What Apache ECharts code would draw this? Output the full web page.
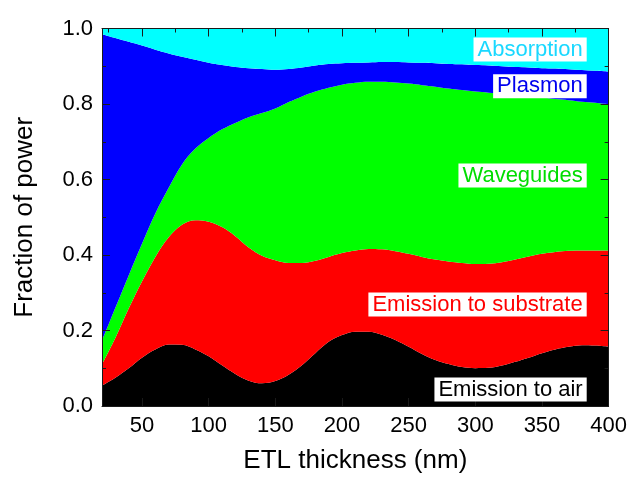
<!DOCTYPE html>
<html>
<head>
<meta charset="utf-8">
<script src="https://cdn.jsdelivr.net/npm/echarts@6/dist/echarts.min.js"></script>
<style>
html,body{margin:0;padding:0;background:#fff;}
#chart{width:630px;height:479px;}
</style>
</head>
<body>
<div id="chart"></div>
<script>
// ETL thickness (nm)
const thickness = [20,30,40,50,60,70,80,90,100,110,120,130,140,150,160,170,180,190,200,210,220,230,240,250,260,270,280,290,300,310,320,330,340,350,360,370,380,390,400];
// Fraction of power per channel
const emissionAir = [0.054,0.075,0.100,0.128,0.150,0.163,0.162,0.150,0.132,0.108,0.085,0.067,0.060,0.066,0.083,0.108,0.140,0.170,0.188,0.197,0.197,0.189,0.175,0.157,0.138,0.122,0.111,0.103,0.100,0.101,0.107,0.117,0.128,0.140,0.150,0.157,0.161,0.160,0.157];
const emissionSubstrate = [0.056,0.105,0.158,0.202,0.245,0.284,0.318,0.342,0.356,0.366,0.365,0.353,0.338,0.320,0.296,0.271,0.245,0.225,0.217,0.215,0.219,0.226,0.235,0.246,0.257,0.266,0.272,0.276,0.276,0.276,0.274,0.271,0.268,0.263,0.258,0.254,0.251,0.252,0.255];
const waveguides = [0.063,0.080,0.088,0.100,0.115,0.131,0.160,0.190,0.222,0.259,0.300,0.345,0.378,0.402,0.426,0.441,0.448,0.448,0.446,0.444,0.443,0.444,0.447,0.451,0.455,0.458,0.458,0.458,0.457,0.453,0.445,0.435,0.424,0.414,0.405,0.399,0.394,0.391,0.387];
const plasmon = [0.812,0.715,0.619,0.525,0.434,0.356,0.285,0.235,0.199,0.170,0.148,0.130,0.117,0.103,0.088,0.077,0.069,0.063,0.057,0.053,0.051,0.052,0.054,0.056,0.059,0.062,0.065,0.068,0.070,0.072,0.074,0.075,0.077,0.078,0.081,0.082,0.084,0.085,0.087];
const absorption = [0.015,0.025,0.035,0.045,0.056,0.066,0.075,0.083,0.091,0.097,0.102,0.105,0.107,0.109,0.107,0.103,0.098,0.094,0.092,0.091,0.090,0.089,0.089,0.090,0.091,0.092,0.094,0.095,0.097,0.098,0.100,0.102,0.103,0.105,0.106,0.108,0.110,0.112,0.114];

const seriesNames = ['Emission to air','Emission to substrate','Waveguides','Plasmon','Absorption'];
const xMajorTicks = [50,100,150,200,250,300,350,400];
const xMinorTicks = [25,75,125,175,225,275,325,375];

const fillColors = ['#000000','#ff0000','#00ff00','#0000ff','#00ffff'];
const textColors = ['#000000','#ff0000','#00dd00','#0000ee','#1ad8ff'];
const labelCenters = [389.5,304.5,175.5,86.3,49.5];

const FONT = 'Liberation Sans, Arial, Helvetica, sans-serif';
const seriesValues = [emissionAir, emissionSubstrate, waveguides, plasmon, absorption];

const chart = echarts.init(document.getElementById('chart'), null, {renderer:'canvas'});

const axisLineStyle = {color:'#1a1a1a', width:1};

const option = {
  animation:false,
  backgroundColor:'#ffffff',
  grid:{left:102, right:20.5, top:28.5, bottom:70, containLabel:false},
  xAxis:[
    {type:'value', position:'bottom', min:20, max:400, z:10,
     name:'ETL thickness (nm)', nameLocation:'middle', nameGap:42,
     nameTextStyle:{fontSize:26, color:'#000', fontFamily:FONT},
     axisLine:{show:true, onZero:false, lineStyle:axisLineStyle},
     axisTick:{show:true, inside:true, length:8, customValues:xMajorTicks, lineStyle:axisLineStyle},
     axisLabel:{customValues:xMajorTicks, fontSize:22, color:'#000', fontFamily:FONT, margin:9},
     splitLine:{show:false}},
    {type:'value', position:'top', min:20, max:400, z:10,
     axisLine:{show:true, onZero:false, lineStyle:axisLineStyle},
     axisTick:{show:true, inside:true, length:8, customValues:xMajorTicks, lineStyle:axisLineStyle},
     axisLabel:{show:false}, splitLine:{show:false}},
    {type:'value', position:'top', min:20, max:400, z:10,
     axisLine:{show:false, onZero:false},
     axisTick:{show:true, inside:true, length:4, customValues:xMinorTicks, lineStyle:axisLineStyle},
     axisLabel:{show:false}, splitLine:{show:false}}
  ],
  yAxis:[
    {type:'value', position:'left', min:0, max:1, interval:0.2, z:10,
     name:'Fraction of power', nameLocation:'middle', nameGap:64,
     nameTextStyle:{fontSize:26, color:'#000', fontFamily:FONT},
     axisLine:{show:true, onZero:false, lineStyle:axisLineStyle},
     axisTick:{show:true, inside:true, length:8, lineStyle:axisLineStyle},
     minorTick:{show:true, splitNumber:2, length:4, lineStyle:axisLineStyle},
     axisLabel:{fontSize:22, color:'#000', fontFamily:FONT, margin:9, formatter:v=>v.toFixed(1)},
     splitLine:{show:false}},
    {type:'value', position:'right', min:0, max:1, interval:0.2, z:10,
     axisLine:{show:true, onZero:false, lineStyle:axisLineStyle},
     axisTick:{show:true, inside:true, length:8, lineStyle:axisLineStyle},
     minorTick:{show:true, splitNumber:2, length:4, lineStyle:axisLineStyle},
     axisLabel:{show:false}, splitLine:{show:false}}
  ],
  series: seriesNames.map((name,k)=>({
    name:name, type:'line', stack:'total', smooth:0.35,
    xAxisIndex:0, yAxisIndex:0,
    showSymbol:false, symbol:'none',
    lineStyle:{width:0, color:fillColors[k]},
    itemStyle:{color:fillColors[k]},
    areaStyle:{color:fillColors[k], opacity:1},
    emphasis:{disabled:true},
    // value first so that the stacked dimension is the fraction (y)
    encode:{x:1, y:0},
    data: thickness.map((t,i)=>[seriesValues[k][i], t])
  })),
  graphic: seriesNames.map((name,k)=>({
    type:'text', x:586.7, y:labelCenters[k], z:100,
    style:{text:name, align:'right', verticalAlign:'middle',
      fill:textColors[k], fontSize:22, fontFamily:FONT,
      backgroundColor:'#ffffff', padding:[1,4,1,4], lineHeight:22}
  }))
};
chart.setOption(option);
</script>
</body>
</html>
